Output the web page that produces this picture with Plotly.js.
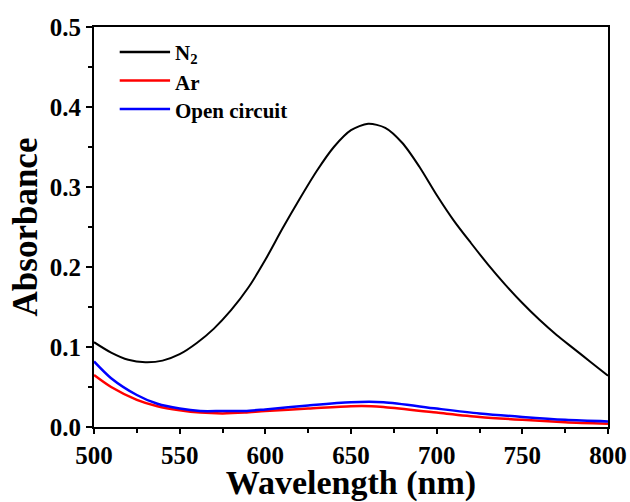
<!DOCTYPE html>
<html>
<head>
<meta charset="utf-8">
<script src="https://cdn.plot.ly/plotly-3.0.1.min.js"></script>
<style>html,body{margin:0;padding:0;background:#fff;}#chart{width:630px;height:502px;}</style>
</head>
<body>
<div id="chart"></div>
<script>
const n2X = [500,510,520,530,540,550,560,570,580,590,600,610,620,630,640,650,660,670,680,690,700,710,720,730,740,750,760,770,780,790,800];
const n2Y = [0.106,0.093,0.084,0.081,0.083,0.091,0.105,0.123,0.146,0.174,0.209,0.248,0.285,0.320,0.350,0.371,0.379,0.374,0.355,0.325,0.290,0.258,0.230,0.203,0.178,0.155,0.134,0.115,0.098,0.081,0.064];
const ocX = [500,510,525,537,550,562,575,588,600,625,650,669,700,725,750,775,800];
const ocY = [0.082,0.061,0.040,0.029,0.023,0.020,0.020,0.020,0.022,0.027,0.031,0.031,0.023,0.017,0.0126,0.009,0.007];
const arX = [500,510,525,537,550,562,575,588,600,625,650,662,669,700,725,750,775,800];
const arY = [0.065,0.050,0.034,0.026,0.021,0.018,0.017,0.018,0.020,0.023,0.026,0.026,0.025,0.018,0.0126,0.009,0.006,0.004];
const seriesNames = ['N<sub>2</sub>', 'Ar', 'Open circuit'];
const seriesColors = ['#000000', '#ff0000', '#0000ff'];
const xTicks = [500,550,600,650,700,750,800];
const yTicks = [0,0.1,0.2,0.3,0.4,0.5];
const yTickText = ['0.0','0.1','0.2','0.3','0.4','0.5'];

const font = {family: 'Liberation Serif, Times New Roman, serif', color: '#000'};
const traces = [
  {x: n2X, y: n2Y, name: seriesNames[0], mode: 'lines', line: {color: seriesColors[0], width: 2, shape: 'spline', smoothing: 0.8}},
  {x: arX, y: arY, name: seriesNames[1], mode: 'lines', line: {color: seriesColors[1], width: 2.5, shape: 'spline', smoothing: 0.8}},
  {x: ocX, y: ocY, name: seriesNames[2], mode: 'lines', line: {color: seriesColors[2], width: 2.5, shape: 'spline', smoothing: 0.8}}
];

// legend drawn as paper-positioned shapes + text (longer sample lines than Plotly's built-in legend)
const legendRowsY = [0.9375, 0.866, 0.795];
const shapes = [];
const annotations = [];
seriesNames.forEach((nm, i) => {
  shapes.push({type: 'line', xref: 'paper', yref: 'paper', x0: 0.05, x1: 0.148,
               y0: legendRowsY[i], y1: legendRowsY[i], line: {color: seriesColors[i], width: 2.5}});
  annotations.push({xref: 'paper', yref: 'paper', x: 0.154, y: legendRowsY[i] - 0.005,
                    xanchor: 'left', yanchor: 'middle', showarrow: false, text: nm,
                    font: Object.assign({}, font, {size: 21, weight: 'bold'})});
});

const axisCommon = {
  showline: true, linewidth: 2, linecolor: '#000', mirror: true,
  ticks: 'outside', ticklen: 5, tickwidth: 2, tickcolor: '#000',
  showgrid: false, zeroline: false,
  tickfont: Object.assign({}, font, {size: 25, weight: 'bold'}),
  minor: {ticks: 'outside', ticklen: 4, tickwidth: 2, tickcolor: '#000', showgrid: false}
};
const layout = {
  width: 630, height: 502,
  margin: {l: 94, r: 22, t: 27, b: 75},
  paper_bgcolor: '#fff', plot_bgcolor: '#fff',
  showlegend: false,
  shapes: shapes,
  annotations: annotations,
  xaxis: Object.assign({}, axisCommon, {
    range: [500, 800], tickvals: xTicks,
    minor: Object.assign({}, axisCommon.minor, {dtick: 25, tick0: 500}),
    title: {text: 'Wavelength (nm)', font: Object.assign({}, font, {size: 34, weight: 'bold'}), standoff: 0}
  }),
  yaxis: Object.assign({}, axisCommon, {
    range: [0, 0.5], tickvals: yTicks, ticktext: yTickText, ticklen: 6,
    minor: Object.assign({}, axisCommon.minor, {dtick: 0.05, tick0: 0}),
    title: {text: 'Absorbance', font: Object.assign({}, font, {size: 35, weight: 'bold'}), standoff: 2}
  })
};
Plotly.newPlot('chart', traces, layout, {staticPlot: true, displayModeBar: false});
</script>
</body>
</html>
